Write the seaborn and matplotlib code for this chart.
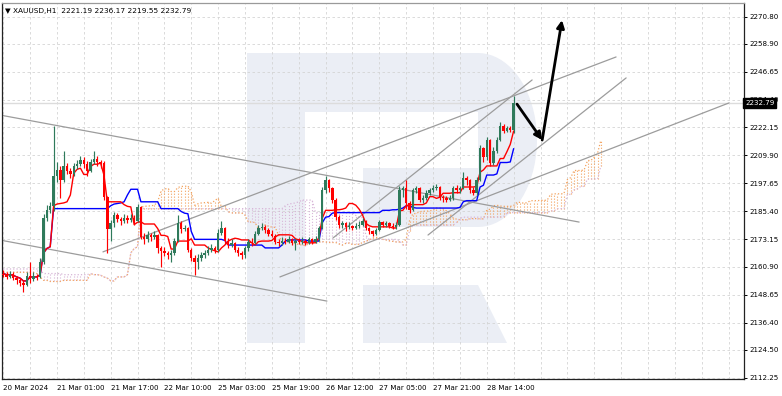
import numpy as np
import pandas as pd
import matplotlib
matplotlib.use("Agg")
import matplotlib.pyplot as plt
from matplotlib.patches import Polygon, Rectangle
from matplotlib.transforms import Affine2D, blended_transform_factory
import seaborn as sns

# XAUUSD H1, 20 Mar 09:00 .. 28 Mar 22:00 (one value per hourly bar)
opens = [
    2158.0, 2157.5, 2156.5, 2158.0, 2156.0, 2155.0, 2154.0, 2153.0, 2157.0, 2155.5,
    2157.0, 2156.5, 2163.0, 2182.5, 2186.0, 2187.5, 2201.0, 2203.5, 2199.0, 2205.0,
    2203.0, 2201.5, 2205.0, 2206.0, 2208.0, 2206.0, 2203.0, 2207.0, 2208.5, 2207.0,
    2206.5, 2191.5, 2177.5, 2180.0, 2183.5, 2182.0, 2181.0, 2182.5, 2181.5, 2182.5,
    2181.0, 2187.0, 2174.0, 2173.0, 2175.0, 2174.0, 2175.0, 2169.0, 2168.0, 2167.0,
    2166.0, 2167.0, 2172.5, 2180.0, 2177.5, 2178.0, 2168.5, 2165.0, 2163.0, 2165.0,
    2166.0, 2167.0, 2168.5, 2169.0, 2168.5, 2176.0, 2178.0, 2172.5, 2170.5, 2171.5,
    2168.5, 2167.0, 2166.0, 2169.0, 2172.0, 2171.5, 2175.5, 2178.0, 2178.5, 2177.0,
    2175.5, 2174.5, 2172.0, 2171.5, 2172.5, 2172.0, 2173.0, 2171.5, 2172.5, 2172.0,
    2172.5, 2171.5, 2173.0, 2172.0, 2173.0, 2178.0, 2194.5, 2199.0, 2195.5, 2190.5,
    2183.0, 2179.5, 2180.0, 2178.5, 2179.0, 2178.0, 2179.0, 2179.5, 2181.0, 2178.0,
    2176.5, 2175.5, 2177.0, 2180.5, 2179.5, 2180.0, 2179.0, 2178.5, 2179.5, 2194.5,
    2195.5, 2189.0, 2186.0, 2194.5, 2195.5, 2190.5, 2191.0, 2193.5, 2194.5, 2195.5,
    2196.0, 2191.5, 2191.0, 2190.5, 2191.0, 2195.5, 2194.5, 2195.5, 2200.0, 2199.0,
    2194.5, 2193.5, 2199.0, 2213.0, 2209.0, 2216.5, 2206.5, 2212.0, 2216.5, 2223.0,
    2220.5, 2222.0, 2221.19,
]
highs = [
    2159.5, 2158.5, 2159.0, 2158.5, 2157.0, 2156.0, 2155.0, 2158.5, 2163.0, 2158.5,
    2158.0, 2165.0, 2184.0, 2188.0, 2189.5, 2223.0, 2207.0, 2205.0, 2212.0, 2206.5,
    2204.5, 2206.5, 2208.0, 2209.5, 2209.0, 2207.5, 2208.5, 2212.0, 2209.5, 2208.0,
    2207.5, 2192.0, 2181.5, 2185.0, 2184.5, 2183.0, 2184.0, 2183.5, 2184.0, 2183.5,
    2188.5, 2187.5, 2176.0, 2176.5, 2176.0, 2176.5, 2175.5, 2170.0, 2169.5, 2168.0,
    2168.5, 2173.5, 2183.5, 2181.0, 2179.5, 2178.5, 2169.0, 2166.0, 2166.5, 2167.5,
    2168.5, 2170.0, 2171.0, 2170.0, 2177.5, 2181.0, 2178.5, 2173.5, 2173.0, 2172.0,
    2169.5, 2168.0, 2170.0, 2173.0, 2173.5, 2176.5, 2179.5, 2180.0, 2179.5, 2178.0,
    2177.0, 2175.5, 2173.0, 2174.0, 2173.5, 2174.5, 2173.5, 2173.5, 2173.5, 2174.0,
    2173.0, 2174.0, 2173.5, 2174.5, 2179.0, 2196.0, 2201.0, 2199.5, 2196.0, 2191.0,
    2183.5, 2181.0, 2180.5, 2180.5, 2179.5, 2180.0, 2181.0, 2182.5, 2181.5, 2178.5,
    2177.0, 2178.0, 2181.5, 2181.0, 2181.0, 2180.5, 2180.0, 2180.5, 2196.5, 2196.5,
    2199.0, 2190.0, 2195.5, 2196.5, 2196.0, 2192.5, 2194.5, 2195.5, 2197.0, 2197.5,
    2196.5, 2192.5, 2192.0, 2192.5, 2196.5, 2197.0, 2196.5, 2202.5, 2201.0, 2199.5,
    2196.0, 2200.5, 2214.5, 2213.5, 2218.0, 2217.0, 2213.5, 2218.0, 2224.5, 2223.5,
    2223.0, 2223.0, 2236.17,
]
lows = [
    2156.5, 2155.5, 2156.0, 2155.0, 2153.5, 2152.5, 2150.0, 2152.5, 2154.0, 2154.5,
    2155.0, 2156.0, 2162.0, 2181.0, 2184.5, 2185.5, 2198.0, 2191.0, 2198.0, 2201.5,
    2200.0, 2201.0, 2204.0, 2205.0, 2204.5, 2201.0, 2202.5, 2206.0, 2205.0, 2204.5,
    2190.5, 2167.0, 2172.5, 2178.5, 2180.5, 2179.5, 2180.0, 2180.0, 2180.5, 2179.5,
    2180.5, 2173.0, 2171.0, 2172.0, 2172.5, 2173.0, 2167.0, 2161.0, 2165.5, 2164.5,
    2163.0, 2166.0, 2172.0, 2176.0, 2176.5, 2167.5, 2163.5, 2157.5, 2160.0, 2163.5,
    2165.0, 2166.0, 2167.5, 2167.0, 2167.5, 2175.0, 2171.0, 2169.0, 2169.5, 2167.5,
    2165.5, 2164.5, 2165.0, 2168.0, 2170.0, 2171.0, 2175.0, 2177.0, 2176.0, 2174.5,
    2174.0, 2171.0, 2170.0, 2170.5, 2171.0, 2171.5, 2170.5, 2168.5, 2171.0, 2171.0,
    2170.5, 2171.0, 2171.0, 2171.5, 2172.5, 2177.5, 2193.5, 2194.0, 2189.0, 2181.5,
    2178.0, 2178.0, 2176.5, 2177.5, 2177.0, 2177.5, 2178.0, 2179.0, 2177.0, 2175.5,
    2174.5, 2175.0, 2176.5, 2178.5, 2178.5, 2178.0, 2177.5, 2177.5, 2179.0, 2191.5,
    2186.5, 2184.5, 2185.5, 2193.5, 2189.5, 2189.0, 2190.5, 2192.5, 2194.0, 2194.5,
    2190.5, 2189.5, 2189.5, 2190.0, 2190.5, 2193.5, 2193.5, 2195.0, 2197.0, 2193.5,
    2192.5, 2192.5, 2198.5, 2207.0, 2208.0, 2205.0, 2205.5, 2211.0, 2216.0, 2219.5,
    2220.0, 2220.0, 2219.55,
]
closes = [
    2157.5, 2156.5, 2158.0, 2156.0, 2155.0, 2154.0, 2153.0, 2157.0, 2155.5, 2157.0,
    2156.5, 2163.0, 2182.5, 2186.0, 2187.5, 2201.0, 2203.5, 2199.0, 2205.0, 2203.0,
    2201.5, 2205.0, 2206.0, 2208.0, 2206.0, 2203.0, 2207.0, 2208.5, 2207.0, 2206.5,
    2191.5, 2177.5, 2180.0, 2183.5, 2182.0, 2181.0, 2182.5, 2181.5, 2182.5, 2181.0,
    2187.0, 2174.0, 2173.0, 2175.0, 2174.0, 2175.0, 2169.0, 2168.0, 2167.0, 2166.0,
    2167.0, 2172.5, 2180.0, 2177.5, 2178.0, 2168.5, 2165.0, 2163.0, 2165.0, 2166.0,
    2167.0, 2168.5, 2169.0, 2168.5, 2176.0, 2178.0, 2172.5, 2170.5, 2171.5, 2168.5,
    2167.0, 2166.0, 2169.0, 2172.0, 2171.5, 2175.5, 2178.0, 2178.5, 2177.0, 2175.5,
    2174.5, 2172.0, 2171.5, 2172.5, 2172.0, 2173.0, 2171.5, 2172.5, 2172.0, 2172.5,
    2171.5, 2173.0, 2172.0, 2173.0, 2178.0, 2194.5, 2199.0, 2195.5, 2190.5, 2183.0,
    2179.5, 2180.0, 2178.5, 2179.0, 2178.0, 2179.0, 2179.5, 2181.0, 2178.0, 2176.5,
    2175.5, 2177.0, 2180.5, 2179.5, 2180.0, 2179.0, 2178.5, 2179.5, 2194.5, 2195.5,
    2189.0, 2186.0, 2194.5, 2195.5, 2190.5, 2191.0, 2193.5, 2194.5, 2195.5, 2196.0,
    2191.5, 2191.0, 2190.5, 2191.0, 2195.5, 2194.5, 2195.5, 2200.0, 2199.0, 2194.5,
    2193.5, 2199.0, 2213.0, 2209.0, 2216.5, 2206.5, 2212.0, 2216.5, 2223.0, 2220.5,
    2222.0, 2221.19, 2232.79,
]

# cloud values already projected onto the first 26 bars (from earlier history)
span_a_lead = [2158.5, 2158.5, 2158.5, 2158.5, 2158.5, 2158.5, 2158.5, 2158.5, 2158.5,
               2158.5, 2158.0, 2156.5, 2155.0, 2155.0, 2154.5, 2154.5, 2154.5, 2154.5,
               2155.0, 2155.0, 2155.0, 2155.0, 2155.0, 2155.0, 2155.0, 2155.0]
span_b_lead = [2160.0, 2160.0, 2160.0, 2160.0, 2160.0, 2160.0, 2160.0, 2160.0, 2160.0,
               2160.0, 2160.0, 2159.5, 2158.0, 2158.0, 2158.0, 2158.0, 2158.0, 2158.0,
               2157.5, 2157.5, 2157.5, 2157.5, 2157.5, 2157.5, 2157.5, 2157.5]

x_tick_bars = [0, 16, 32, 48, 64, 80, 96, 112, 128, 144]
x_tick_labels = ["20 Mar 2024", "21 Mar 01:00", "21 Mar 17:00", "22 Mar 10:00",
                 "25 Mar 03:00", "25 Mar 19:00", "26 Mar 12:00", "27 Mar 05:00",
                 "27 Mar 21:00", "28 Mar 14:00"]
y_ticks = [2270.80, 2258.90, 2246.65, 2234.40, 2222.15, 2209.90, 2197.65,
           2185.40, 2173.15, 2160.90, 2148.65, 2136.40, 2124.50, 2112.25]

# hand drawn trend lines (bar index, price)
line_x0 = [-0.95, -0.95, 29.7, 82.4, 98.2, 126.5]
line_y0 = [2227.6, 2172.7, 2167.5, 2156.5, 2173.6, 2174.9]
line_x1 = [171.5, 96.4, 182.5, 216.1, 157.5, 185.5]
line_y1 = [2180.6, 2145.9, 2253.1, 2232.9, 2243.0, 2243.9]
# forecast arrows: pull back, then push up
arrow_bars = [153.0, 160.5, 166.4]
arrow_prices = [2232.4, 2216.6, 2269.3]

last_price = 2232.79
title = "\u25bc XAUUSD,H1  2221.19 2236.17 2219.55 2232.79"

sns.set_theme(style="white")
plt.rcParams["font.family"] = ["DejaVu Sans"]

df = pd.DataFrame({"open": opens, "high": highs, "low": lows, "close": closes})
bars = np.arange(len(df))

tenkan = (df["high"].rolling(9, min_periods=1).max() + df["low"].rolling(9, min_periods=1).min()) / 2
kijun = (df["high"].rolling(26, min_periods=1).max() + df["low"].rolling(26, min_periods=1).min()) / 2
span_b_src = (df["high"].rolling(52, min_periods=1).max() + df["low"].rolling(52, min_periods=1).min()) / 2
span_a = np.r_[span_a_lead, ((tenkan + kijun) / 2).values]
span_b = np.r_[span_b_lead, span_b_src.values]
cloud_x = np.arange(len(span_a))

W, H = 782, 396
fig = plt.figure(figsize=(W / 100, H / 100), dpi=100)
ax = fig.add_axes([2 / W, (H - 379) / H, (744 - 2) / W, (379 - 3) / H])
ax.set_xlim(-0.36, 220.6)
ax.set_ylim(2111.68, 2276.8)

# faint "R" logo in the background (pixel coordinates, y down)
px = Affine2D().scale(1 / W, -1 / H).translate(0, 1) + fig.transFigure
logo = "#ebeef5"
t = np.linspace(-np.pi / 2, np.pi / 2, 40)
bowl = [(305, 53), (478, 53)] + list(zip(478 + 59 * np.cos(t), 140 + 87 * np.sin(t))) + \
       [(363, 227), (363, 168), (478, 168), (478, 112), (305, 112)]
ax.add_patch(Rectangle((247, 53), 58, 290, transform=px, fc=logo, ec="none", zorder=0.1))
ax.add_patch(Polygon(bowl, closed=True, transform=px, fc=logo, ec="none", zorder=0.1))
ax.add_patch(Polygon([(363, 285), (478, 285), (507, 343), (363, 343)], closed=True,
                     transform=px, fc=logo, ec="none", zorder=0.1))

# Ichimoku cloud drawn as dotted columns
orange, thistle = "#f3a35f", "#d8b6d8"
col = [orange if a >= b else thistle for a, b in zip(span_a, span_b)]
ax.vlines(cloud_x, np.minimum(span_a, span_b), np.maximum(span_a, span_b),
          colors=col, linestyles=":", lw=0.8, zorder=1)
ax.plot(cloud_x, span_a, color=orange, ls=":", lw=0.9, zorder=1.2)
ax.plot(cloud_x, span_b, color=thistle, ls=":", lw=0.9, zorder=1.2)

ax.axhline(last_price, color="#dcdcdc", lw=1.0, zorder=1.1)

for x0, y0, x1, y1 in zip(line_x0, line_y0, line_x1, line_y1):
    ax.plot([x0, x1], [y0, y1], color="#9c9c9c", lw=0.9, zorder=1.5)

sns.lineplot(x=bars, y=kijun.values, color="#0000ff", lw=1.0, ax=ax, zorder=2)
sns.lineplot(x=bars, y=tenkan.values, color="#ff0000", lw=1.0, ax=ax, zorder=2)

# candles
o = df["open"].values
c = df["close"].values
up = c >= o
colors = np.where(up, "#2f7a5b", "#ff0000")
ax.vlines(bars, df["low"], df["high"], colors=colors, lw=0.85, zorder=3)
body = np.where(np.abs(c - o) < 0.4, 0.4, c - o)
ax.bar(bars, body, bottom=o, width=0.72, color=colors, lw=0, zorder=3.1)

for i in range(len(arrow_bars) - 1):
    ax.annotate("", xy=(arrow_bars[i + 1], arrow_prices[i + 1]),
                xytext=(arrow_bars[i], arrow_prices[i]),
                arrowprops=dict(arrowstyle="-|>", color="black", lw=2.0,
                                mutation_scale=11, shrinkA=0, shrinkB=0),
                zorder=4)

# axes in MetaTrader style
ax.yaxis.tick_right()
ax.set_yticks(y_ticks)
ax.set_yticklabels([f"{v:.2f}" for v in y_ticks])
ax.set_xticks(x_tick_bars)
ax.set_xticklabels(x_tick_labels)
ax.set_xticks(np.arange(0, 221, 8), minor=True)
for lab in ax.get_xticklabels():
    lab.set_ha("left")
ax.tick_params(axis="both", which="major", length=2.5, width=0.7, color="black",
               labelsize=5.1, labelcolor="black", pad=1.5, direction="out")
ax.tick_params(axis="x", which="minor", length=0)
ax.tick_params(axis="y", which="major", right=True, left=False)
ax.set_axisbelow(True)
ax.grid(True, which="both", axis="x", color="#d4d4d4", lw=0.6, ls=(0, (3, 3)))
ax.grid(True, which="major", axis="y", color="#d4d4d4", lw=0.6, ls=(0, (3, 3)))
ax.set_xlabel("")
ax.set_ylabel("")
for side, sp in ax.spines.items():
    sp.set_visible(True)
    sp.set_linewidth(0.9)
    sp.set_color("#9a9a9a" if side == "top" else "#222222")

ax.text(0.004, 0.988, title, transform=ax.transAxes, ha="left", va="top",
        fontsize=5.3, color="black", zorder=6)
# current price tag sits on top of the 2234.40 tick label, as in the terminal
ax.text(1.0015, last_price, f"{last_price:.2f}",
        transform=blended_transform_factory(ax.transAxes, ax.transData),
        ha="left", va="center", fontsize=5.1, color="white", clip_on=False, zorder=6,
        bbox=dict(boxstyle="square,pad=0.3", fc="black", ec="black"))

fig.savefig("out.png", dpi=100)
